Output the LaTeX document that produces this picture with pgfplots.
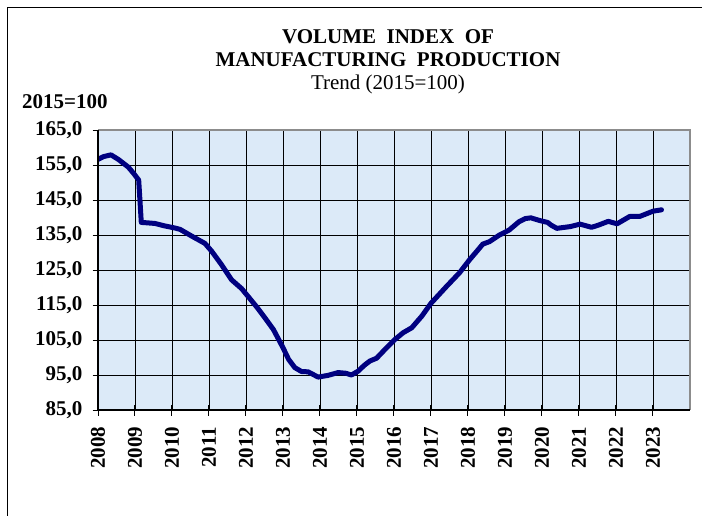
\documentclass[border=0pt]{standalone}
\usepackage{fontspec}
\setmainfont{Liberation Serif}
\usepackage{pgfplots}
\pgfplotsset{compat=1.18}
\definecolor{navy}{RGB}{0,0,128}
\definecolor{plotbg}{RGB}{220,234,248}
\definecolor{framegray}{RGB}{140,140,140}
\begin{document}
\begin{tikzpicture}[x=1pt,y=1pt]
\path[use as bounding box] (0,0) rectangle (702,515);
\draw[line width=1.5pt] (7.5,-3) -- (7.5,507.5) -- (706,507.5);
\node[anchor=base, font=\bfseries\fontsize{21}{21}\selectfont, inner sep=0pt] at (388,471) {VOLUME\ \ INDEX\ \ OF};
\node[anchor=base, font=\bfseries\fontsize{21}{21}\selectfont, inner sep=0pt] at (388,448) {MANUFACTURING\ \ PRODUCTION};
\node[anchor=base, font=\fontsize{21}{21}\selectfont, inner sep=0pt] at (388,425) {Trend (2015=100)};
\node[anchor=base west, font=\bfseries\fontsize{21}{21}\selectfont, inner sep=0pt] at (22,406) {2015=100};
\begin{axis}[
  at={(98pt,105pt)}, anchor=south west,
  scale only axis, width=592pt, height=280pt,
  xmin=2008, xmax=2024, ymin=85, ymax=165,
  xtick={2008,2009,...,2023},
  xticklabels={2008,2009,2010,2011,2012,2013,2014,2015,2016,2017,2018,2019,2020,2021,2022,2023},
  minor x tick num=1,
  ytick={85,95,...,165},
  yticklabel={\pgfmathprintnumber[fixed,fixed zerofill,precision=1,use comma]{\tick}},
  /pgf/number format/assume math mode=true,
  ticklabel style={font=\bfseries\fontsize{21}{21}\selectfont},
  xticklabel style={rotate=90, anchor=east, inner sep=0pt},
  yticklabel style={anchor=east, inner sep=0pt, xshift=-10pt},
  xticklabel shift=11pt,
  xtick pos=bottom, ytick pos=left,
  tick align=center,
  major tick length=11pt,
  minor tick length=8pt,
  tick style={black, line width=1pt},
  grid=major,
  major grid style={black, line width=0.9pt},
  axis background/.style={fill=plotbg},
  axis line style={draw=none},
  after end axis/.code={
    \draw[framegray, line width=2.5pt] (rel axis cs:0,1) -- (rel axis cs:1,1) -- (rel axis cs:1,0);
    \draw[black, line width=1.3pt] (rel axis cs:0,1) -- (rel axis cs:0,0) -- (rel axis cs:1,0);
  },
]
\addplot[navy, line width=5pt, line join=round, line cap=round] table {
x y
2008.00 156.6
2008.15 157.4
2008.35 157.9
2008.55 156.6
2008.82 154.4
2008.97 152.5
2009.10 150.7
2009.17 138.6
2009.30 138.5
2009.54 138.3
2009.80 137.6
2010.08 137.0
2010.22 136.6
2010.53 134.7
2010.89 132.6
2011.07 130.4
2011.34 126.5
2011.61 122.2
2011.88 119.7
2012.06 117.4
2012.30 114.3
2012.50 111.5
2012.74 108.0
2013.00 102.8
2013.15 99.5
2013.32 97.1
2013.50 96.0
2013.68 95.9
2013.95 94.4
2014.22 94.9
2014.49 95.7
2014.70 95.5
2014.85 95.0
2015.03 96.1
2015.20 97.8
2015.35 99.0
2015.53 99.8
2015.80 102.8
2016.03 105.2
2016.25 107.1
2016.48 108.5
2016.75 111.8
2017.00 115.5
2017.41 120.2
2017.77 124.2
2018.04 127.9
2018.25 130.5
2018.40 132.4
2018.58 133.1
2018.85 135.0
2019.11 136.4
2019.38 138.8
2019.55 139.7
2019.70 139.9
2019.95 139.1
2020.15 138.6
2020.25 137.8
2020.40 136.9
2020.76 137.4
2021.03 138.1
2021.34 137.2
2021.52 137.8
2021.79 138.9
2022.03 138.2
2022.37 140.3
2022.64 140.3
2023.00 141.8
2023.23 142.2
};
\end{axis}
\end{tikzpicture}
\end{document}
